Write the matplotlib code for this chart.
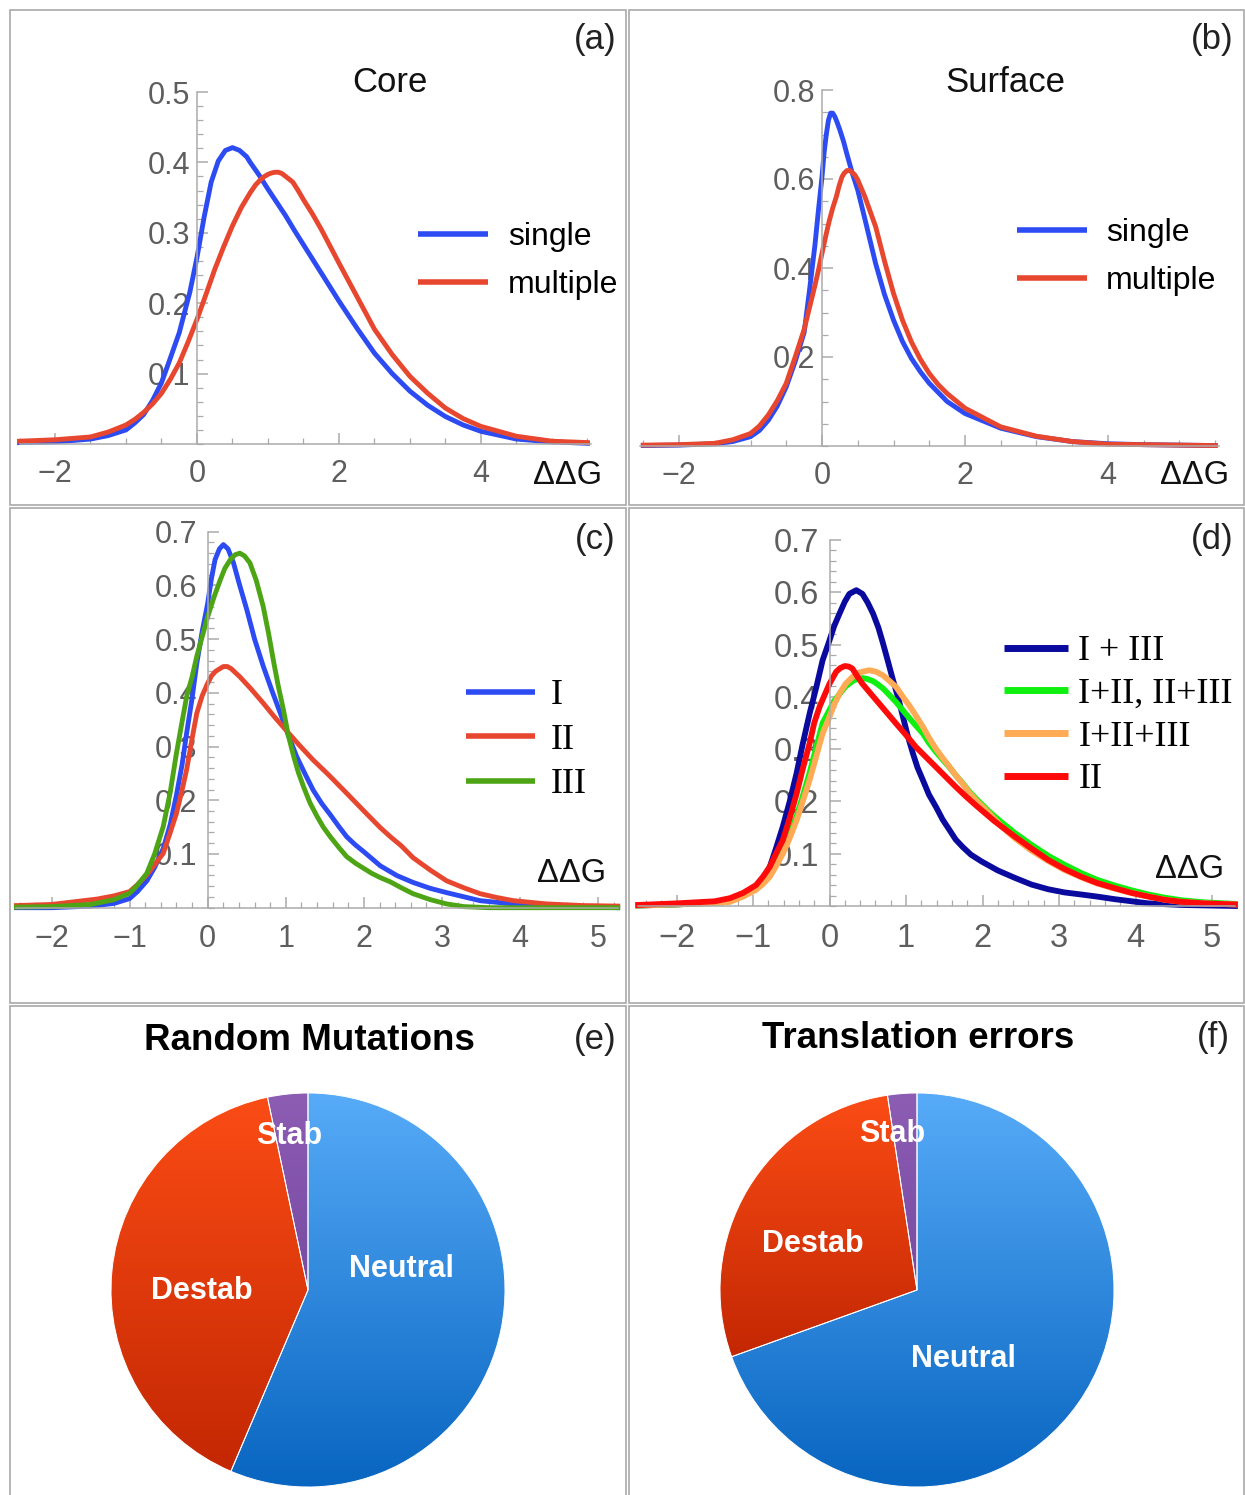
import numpy as np
import matplotlib
matplotlib.use("Agg")
import matplotlib.pyplot as plt
from matplotlib.patches import Rectangle
from matplotlib.colors import LinearSegmentedColormap
from matplotlib.ticker import MultipleLocator

W, H, DPI = 1245, 1495, 100

# ---- data ----------------------------------------------------------------
# (a) core
core_single_x = [-2.5, -2, -1.5, -1.25, -1, -0.875, -0.75, -0.625, -0.5, -0.4,
                 -0.25, -0.1, 0, 0.1, 0.2, 0.3, 0.4, 0.5, 0.6, 0.7,
                 0.75, 0.875, 1.0, 1.125, 1.25, 1.375, 1.5, 1.625, 1.75, 1.875,
                 2.0, 2.25, 2.5, 2.75, 3.0, 3.25, 3.5, 3.75, 4.0, 4.5, 5.0, 5.5]
core_single_y = [0.002, 0.003, 0.007, 0.012, 0.02, 0.03, 0.042, 0.062, 0.087, 0.115,
                 0.158, 0.216, 0.265, 0.322, 0.372, 0.402, 0.417, 0.421, 0.417, 0.408,
                 0.400, 0.382, 0.362, 0.343, 0.324, 0.303, 0.283, 0.263, 0.243, 0.223,
                 0.203, 0.165, 0.129, 0.1, 0.075, 0.055, 0.039, 0.027, 0.018, 0.007, 0.003, 0.001]
core_multi_x = [-2.5, -2, -1.5, -1.25, -1, -0.875, -0.75, -0.625, -0.5, -0.375,
                -0.25, -0.125, 0, 0.125, 0.25, 0.375, 0.5, 0.625, 0.75, 0.825,
                0.9, 0.95, 1.0, 1.05, 1.1, 1.15, 1.2, 1.275, 1.35, 1.425,
                1.5, 1.625, 1.75, 1.875, 2.0, 2.25, 2.5, 2.75, 3.0, 3.25,
                3.5, 3.75, 4.0, 4.5, 5.0, 5.5]
core_multi_y = [0.004, 0.006, 0.01, 0.017, 0.027, 0.035, 0.045, 0.057, 0.072, 0.092,
                0.115, 0.145, 0.177, 0.212, 0.248, 0.28, 0.31, 0.336, 0.357, 0.368,
                0.376, 0.380, 0.383, 0.385, 0.386, 0.386, 0.384, 0.378, 0.372, 0.36,
                0.347, 0.327, 0.305, 0.281, 0.257, 0.21, 0.163, 0.127, 0.096, 0.072,
                0.051, 0.036, 0.025, 0.011, 0.004, 0.002]

# (b) surface
surf_single_x = [-2.5, -2, -1.5, -1.25, -1, -0.875, -0.75, -0.625, -0.5, -0.375,
                 -0.25, -0.175, -0.1, -0.05, 0, 0.03, 0.06, 0.09, 0.12, 0.15,
                 0.18, 0.21, 0.25, 0.3, 0.35, 0.42, 0.5, 0.6, 0.75, 0.875,
                 1.0, 1.125, 1.25, 1.375, 1.5, 1.75, 2, 2.5, 3, 3.5, 4, 4.5, 5, 5.5]
surf_single_y = [0.001, 0.002, 0.005, 0.01, 0.021, 0.035, 0.058, 0.09, 0.133, 0.19,
                 0.255, 0.35, 0.45, 0.53, 0.605, 0.66, 0.70, 0.732, 0.748, 0.748,
                 0.74, 0.728, 0.71, 0.685, 0.655, 0.615, 0.575, 0.51, 0.41, 0.34,
                 0.283, 0.235, 0.197, 0.167, 0.141, 0.10, 0.073, 0.04, 0.021, 0.01,
                 0.005, 0.003, 0.002, 0.001]
surf_multi_x = [-2.5, -2, -1.5, -1.25, -1, -0.875, -0.75, -0.625, -0.5, -0.375,
                -0.25, -0.1, -0.05, 0, 0.05, 0.1, 0.15, 0.2, 0.24, 0.28,
                0.31, 0.35, 0.39, 0.42, 0.46, 0.5, 0.6, 0.75, 0.875, 1.0,
                1.125, 1.25, 1.375, 1.5, 1.625, 1.75, 2, 2.5, 3, 3.5, 4, 4.5, 5, 5.5]
surf_multi_y = [0.002, 0.003, 0.006, 0.014, 0.028, 0.045, 0.07, 0.102, 0.141, 0.2,
                0.262, 0.36, 0.395, 0.433, 0.47, 0.505, 0.535, 0.56, 0.585, 0.605,
                0.613, 0.619, 0.619, 0.615, 0.609, 0.598, 0.56, 0.493, 0.415, 0.343,
                0.283, 0.234, 0.195, 0.163, 0.138, 0.118, 0.085, 0.043, 0.022, 0.01,
                0.004, 0.003, 0.002, 0.001]

# (c) classes I, II, III
cls1_x = [-2.45, -2, -1.5, -1.2, -1.0, -0.9, -0.78, -0.68, -0.57, -0.48,
          -0.4, -0.33, -0.27, -0.2, -0.14, -0.07, 0, 0.05, 0.094, 0.15,
          0.2, 0.26, 0.33, 0.4, 0.5, 0.6, 0.71, 0.82, 0.93, 1.04,
          1.14, 1.25, 1.35, 1.46, 1.57, 1.68, 1.78, 1.89, 2.0, 2.21,
          2.42, 2.63, 2.85, 3.06, 3.49, 3.92, 4.34, 5.25]
cls1_y = [0.0, 0.0, 0.003, 0.008, 0.017, 0.03, 0.05, 0.075, 0.11, 0.155,
          0.21, 0.265, 0.325, 0.39, 0.455, 0.515, 0.567, 0.615, 0.648, 0.668,
          0.676, 0.668, 0.642, 0.605, 0.555, 0.5, 0.45, 0.405, 0.362, 0.318,
          0.281, 0.248, 0.219, 0.194, 0.173, 0.151, 0.132, 0.117, 0.104, 0.078,
          0.06, 0.047, 0.036, 0.028, 0.013, 0.007, 0.003, 0.0]
cls2_x = [-2.45, -2, -1.42, -1.2, -1.0, -0.9, -0.78, -0.68, -0.57, -0.48,
          -0.4, -0.33, -0.27, -0.2, -0.14, -0.07, 0, 0.05, 0.1, 0.2,
          0.25, 0.3, 0.41, 0.55, 0.71, 0.85, 1.0, 1.17, 1.35, 1.55,
          1.78, 2.0, 2.21, 2.34, 2.48, 2.63, 2.85, 3.06, 3.28, 3.49,
          3.7, 3.92, 4.34, 4.8, 5.25]
cls2_y = [0.004, 0.006, 0.016, 0.022, 0.03, 0.043, 0.061, 0.08, 0.101, 0.14,
          0.176, 0.218, 0.257, 0.315, 0.362, 0.395, 0.418, 0.432, 0.44, 0.449,
          0.449, 0.445, 0.43, 0.408, 0.381, 0.356, 0.331, 0.303, 0.275, 0.247,
          0.213, 0.18, 0.149, 0.132, 0.115, 0.093, 0.07, 0.05, 0.037, 0.026,
          0.019, 0.013, 0.007, 0.004, 0.003]
cls3_x = [-2.45, -2, -1.5, -1.2, -1.0, -0.9, -0.78, -0.68, -0.57, -0.48,
          -0.4, -0.33, -0.27, -0.2, -0.14, -0.07, 0, 0.08, 0.16, 0.22,
          0.29, 0.35, 0.41, 0.47, 0.54, 0.62, 0.71, 0.78, 0.84, 0.9,
          0.97, 1.03, 1.1, 1.16, 1.23, 1.31, 1.4, 1.48, 1.57, 1.68,
          1.78, 1.89, 2.0, 2.1, 2.21, 2.34, 2.48, 2.63, 2.85, 3.06,
          3.28, 3.6, 5.25]
cls3_y = [0.001, 0.002, 0.006, 0.015, 0.027, 0.042, 0.064, 0.1, 0.151, 0.215,
          0.288, 0.345, 0.393, 0.43, 0.468, 0.505, 0.542, 0.578, 0.61, 0.632,
          0.648, 0.657, 0.66, 0.655, 0.642, 0.61, 0.561, 0.51, 0.461, 0.415,
          0.368, 0.322, 0.282, 0.252, 0.224, 0.195, 0.17, 0.15, 0.132, 0.112,
          0.095, 0.083, 0.073, 0.064, 0.056, 0.048, 0.037, 0.026, 0.015, 0.007,
          0.002, 0.0, 0.0]

# (d) combinations
c13_x = [-2.5, -2, -1.5, -1.3, -1.13, -0.96, -0.87, -0.78, -0.7, -0.61,
         -0.52, -0.43, -0.35, -0.26, -0.17, -0.09, 0, 0.06, 0.13, 0.2,
         0.26, 0.35, 0.43, 0.5, 0.57, 0.64, 0.7, 0.76, 0.83, 0.9,
         0.96, 1.02, 1.09, 1.15, 1.22, 1.3, 1.39, 1.48, 1.57, 1.65,
         1.74, 1.85, 1.99, 2.2, 2.42, 2.64, 2.86, 3.07, 3.29, 3.5,
         3.73, 4.17, 4.6, 5.3]
c13_y = [0.001, 0.003, 0.007, 0.011, 0.02, 0.034, 0.052, 0.075, 0.11, 0.152,
         0.2, 0.254, 0.31, 0.368, 0.42, 0.47, 0.508, 0.535, 0.559, 0.582,
         0.597, 0.604, 0.597, 0.58, 0.559, 0.532, 0.502, 0.47, 0.432, 0.397,
         0.362, 0.327, 0.292, 0.265, 0.241, 0.213, 0.19, 0.165, 0.145, 0.127,
         0.113, 0.098, 0.085, 0.068, 0.054, 0.041, 0.032, 0.026, 0.022, 0.018,
         0.013, 0.005, 0.002, 0.0]
c12_x = [-2.5, -2, -1.5, -1.3, -1.13, -0.96, -0.87, -0.78, -0.7, -0.61,
         -0.52, -0.43, -0.35, -0.26, -0.17, -0.09, 0, 0.06, 0.13, 0.21,
         0.3, 0.36, 0.43, 0.5, 0.57, 0.63, 0.7, 0.78, 0.87, 0.95,
         1.04, 1.13, 1.22, 1.3, 1.39, 1.48, 1.57, 1.65, 1.74, 1.82,
         1.91, 2.0, 2.09, 2.25, 2.42, 2.64, 2.86, 3.07, 3.29, 3.5,
         3.73, 3.95, 4.17, 4.38, 4.6, 4.9, 5.3]
c12_y = [0.001, 0.003, 0.006, 0.009, 0.02, 0.033, 0.045, 0.06, 0.08, 0.105,
         0.136, 0.172, 0.21, 0.255, 0.305, 0.35, 0.375, 0.392, 0.405, 0.42,
         0.43, 0.434, 0.436, 0.434, 0.43, 0.424, 0.416, 0.404, 0.39, 0.376,
         0.36, 0.345, 0.33, 0.312, 0.295, 0.28, 0.265, 0.25, 0.235, 0.22,
         0.206, 0.193, 0.18, 0.16, 0.14, 0.117, 0.096, 0.079, 0.063, 0.05,
         0.039, 0.03, 0.022, 0.016, 0.011, 0.007, 0.004]
c123_x = [-2.5, -2, -1.5, -1.3, -1.13, -0.96, -0.87, -0.78, -0.7, -0.61,
          -0.52, -0.43, -0.35, -0.26, -0.17, -0.09, 0, 0.06, 0.13, 0.21,
          0.3, 0.4, 0.52, 0.61, 0.7, 0.78, 0.87, 0.95, 1.04, 1.13,
          1.22, 1.3, 1.39, 1.48, 1.57, 1.65, 1.74, 1.82, 1.91, 2.0,
          2.09, 2.25, 2.42, 2.64, 2.86, 3.07, 3.29, 3.5, 3.73, 3.95,
          4.17, 4.38, 4.6, 4.9, 5.3]
c123_y = [0.001, 0.003, 0.006, 0.008, 0.018, 0.031, 0.042, 0.056, 0.076, 0.1,
          0.13, 0.164, 0.2, 0.241, 0.288, 0.33, 0.362, 0.385, 0.406, 0.425,
          0.438, 0.447, 0.451, 0.448, 0.441, 0.431, 0.419, 0.402, 0.384, 0.364,
          0.343, 0.322, 0.301, 0.283, 0.266, 0.25, 0.234, 0.218, 0.203, 0.19,
          0.177, 0.152, 0.13, 0.106, 0.086, 0.069, 0.055, 0.043, 0.033, 0.025,
          0.018, 0.012, 0.008, 0.005, 0.003]
c2_x = [-2.5, -2, -1.5, -1.3, -1.13, -0.96, -0.87, -0.78, -0.7, -0.61,
        -0.52, -0.43, -0.35, -0.26, -0.2, -0.13, -0.06, 0, 0.087, 0.14,
        0.2, 0.25, 0.3, 0.36, 0.43, 0.54, 0.65, 0.76, 0.87, 1.0,
        1.13, 1.26, 1.39, 1.52, 1.65, 1.78, 1.91, 2.15, 2.42, 2.64,
        2.86, 3.07, 3.29, 3.5, 3.73, 3.95, 4.17, 4.38, 4.6, 4.9, 5.3]
c2_y = [0.002, 0.005, 0.009, 0.015, 0.025, 0.04, 0.056, 0.075, 0.1, 0.126,
        0.168, 0.215, 0.262, 0.311, 0.35, 0.381, 0.405, 0.425, 0.448, 0.455,
        0.459, 0.458, 0.454, 0.44, 0.425, 0.406, 0.387, 0.368, 0.349, 0.327,
        0.304, 0.285, 0.266, 0.247, 0.228, 0.21, 0.193, 0.163, 0.133, 0.11,
        0.088, 0.071, 0.056, 0.044, 0.034, 0.025, 0.018, 0.012, 0.008, 0.005, 0.003]

# (e), (f) pies: Neutral, Destab, Stab
pie_labels = ["Neutral", "Destab", "Stab"]
random_fracs = [0.564, 0.403, 0.033]
translation_fracs = [0.695, 0.281, 0.024]

# ---- style ----------------------------------------------------------------
BLUE = "#2D4BF2"
RED = "#E8472F"
GREEN = "#4DA415"
NAVY = "#0A0A9E"
LIME = "#10F010"
ORANGE = "#FFAA55"
PURE_RED = "#FF0A0A"
AXIS = "#ABABAB"
TICKLAB = "#5E5E5E"
FRAME = "#A9A9A9"
PIE_GRAD = [("#57ABF8", "#0865C0"), ("#FB4C15", "#C32703"), ("#8D5DB4", "#784AA2")]

SANS = ["Liberation Sans", "DejaVu Sans"]
SERIF = ["Liberation Serif", "DejaVu Serif"]
plt.rcParams.update({"font.family": SANS, "axes.unicode_minus": True,
                     "lines.solid_joinstyle": "round"})

fig = plt.figure(figsize=(W / DPI, H / DPI), dpi=DPI)


def frac_box(x0, y0, x1, y1):
    return [x0 / W, 1 - y1 / H, (x1 - x0) / W, (y1 - y0) / H]


def ftext(x, y, s, **kw):
    kw.setdefault("ha", "center")
    kw.setdefault("va", "center")
    fig.text(x / W, 1 - y / H, s, **kw)


def fmt(v):
    return f"{v:g}".replace("-", "\u2212")


def line_axes(box, xlim, ylim, xmajor, xminor, ymajor, yminor, fs, xpad, ypad):
    ax = fig.add_axes(frac_box(*box))
    ax.patch.set_visible(False)
    ax.set_xlim(xlim)
    ax.set_ylim(ylim)
    for s in ("top", "right"):
        ax.spines[s].set_visible(False)
    ax.spines["left"].set_position(("data", 0))
    for s in ("left", "bottom"):
        ax.spines[s].set_color(AXIS)
        ax.spines[s].set_linewidth(1.1)
    ax.set_xticks(xmajor, [fmt(v) for v in xmajor])
    ax.set_yticks(ymajor, [fmt(v) for v in ymajor])
    ax.xaxis.set_minor_locator(MultipleLocator(xminor))
    ax.yaxis.set_minor_locator(MultipleLocator(yminor))
    ax.tick_params(which="both", direction="in", color=AXIS, labelcolor=TICKLAB, labelsize=fs)
    ax.tick_params(which="major", length=8, width=1.1)
    ax.tick_params(which="minor", length=4.5, width=0.9)
    ax.tick_params(axis="x", pad=xpad)
    ax.tick_params(axis="y", pad=ypad)
    return ax


def add_legend(ax, x, y, fs, family, hl, htp, ls, lw):
    leg = ax.legend(loc="upper left", bbox_to_anchor=(x / W, 1 - y / H),
                    bbox_transform=fig.transFigure, frameon=False, borderpad=0,
                    borderaxespad=0, handlelength=hl, handletextpad=htp, labelspacing=ls,
                    prop={"family": family, "size": fs})
    for line in leg.get_lines():
        line.set_linewidth(lw)
        line.set_solid_capstyle("butt")
    return leg


# panel frames
for x0, y0, x1, y1 in [(10, 10, 626, 505), (629, 10, 1244, 505), (10, 508, 626, 1003),
                       (629, 508, 1244, 1003), (10, 1006, 626, 1500), (629, 1006, 1244, 1500)]:
    fig.add_artist(Rectangle((x0 / W, 1 - y1 / H), (x1 - x0) / W, (y1 - y0) / H,
                             transform=fig.transFigure, fill=False, ec=FRAME, lw=1.2))

LW = 3.5

# (a) Core
ax = line_axes((19.5, 92, 591, 444), (-2.5, 5.55), (0, 0.5), [-2, 0, 2, 4], 0.5,
               [0.1, 0.2, 0.3, 0.4, 0.5], 0.02, 22, 10.5, 5)
ax.plot(core_single_x, core_single_y, color=BLUE, lw=LW, clip_on=False, label="single")
ax.plot(core_multi_x, core_multi_y, color=RED, lw=LW, clip_on=False, label="multiple")
add_legend(ax, 418, 222, 23, SANS, 2.2, 0.62, 0.57, 4.0)
ftext(390, 83, "Core", fontsize=25, color="#111111")
ftext(568, 475, "ΔΔG", fontsize=23.5, color="#111111")
ftext(595, 40, "(a)", fontsize=25, color="#222222")

# (b) Surface
ax = line_axes((639.7, 90, 1218.8, 446), (-2.55, 5.55), (0, 0.8), [-2, 0, 2, 4], 0.5,
               [0.2, 0.4, 0.6, 0.8], 0.05, 22, 10.5, 5)
ax.plot(surf_single_x, surf_single_y, color=BLUE, lw=LW, clip_on=False, label="single")
ax.plot(surf_multi_x, surf_multi_y, color=RED, lw=LW, clip_on=False, label="multiple")
add_legend(ax, 1017, 218, 23, SANS, 2.2, 0.58, 0.57, 4.0)
ftext(1005, 83, "Surface", fontsize=25, color="#111111")
ftext(1195, 475, "ΔΔG", fontsize=23.5, color="#111111")
ftext(1212, 40, "(b)", fontsize=25, color="#222222")

# (c) classes
ax = line_axes((16.4, 531.7, 617.7, 907.7), (-2.45, 5.25), (0, 0.7), list(range(-2, 6)), 0.2,
               [0.1, 0.2, 0.3, 0.4, 0.5, 0.6, 0.7], 0.02, 22, 12, 7.5)
ax.plot(cls1_x, cls1_y, color=BLUE, lw=LW, clip_on=False, label="I")
ax.plot(cls2_x, cls2_y, color=RED, lw=LW, clip_on=False, label="II")
ax.plot(cls3_x, cls3_y, color=GREEN, lw=LW, clip_on=False, label="III")
add_legend(ax, 466, 679, 26, SERIF, 1.92, 0.42, 0.31, 4.0)
ftext(572, 873, "ΔΔG", fontsize=23.5, color="#111111")
ftext(595, 539, "(c)", fontsize=25, color="#222222")

# (d) combinations
LW_D = 4.2
ax = line_axes((638.25, 540, 1234.95, 906), (-2.5, 5.3), (0, 0.7), list(range(-2, 6)), 0.2,
               [0.1, 0.2, 0.3, 0.4, 0.5, 0.6, 0.7], 0.02, 23.5, 12, 7.5)
ax.plot(c13_x, c13_y, color=NAVY, lw=LW_D, clip_on=False, label="I + III")
ax.plot(c12_x, c12_y, color=LIME, lw=LW_D, clip_on=False, label="I+II, II+III")
ax.plot(c123_x, c123_y, color=ORANGE, lw=LW_D, clip_on=False, label="I+II+III")
ax.plot(c2_x, c2_y, color=PURE_RED, lw=LW_D, clip_on=False, label="II")
add_legend(ax, 1004, 635, 26, SERIF, 1.78, 0.28, 0.26, 5.0)
ftext(1190, 869, "ΔΔG", fontsize=23.5, color="#111111")
ftext(1212, 539, "(d)", fontsize=25, color="#222222")


# (e), (f) pies
def pie_panel(cx, cy, fracs, label_pos):
    ax = fig.add_axes(frac_box(cx - 200, cy - 200, cx + 200, cy + 200))
    ax.set_axis_off()
    wedges, _ = ax.pie(fracs, startangle=90, counterclock=False, radius=0.985,
                       wedgeprops=dict(linewidth=0.7, edgecolor="white"))
    for w, (top, bot) in zip(wedges, PIE_GRAD):
        bb = w.get_path().transformed(w.get_patch_transform()).get_extents()
        cmap = LinearSegmentedColormap.from_list("grad", [bot, top])
        im = ax.imshow(np.linspace(0, 1, 256)[:, None], cmap=cmap, origin="lower",
                       extent=(bb.x0, bb.x1, bb.y0, bb.y1), aspect="auto", zorder=1,
                       interpolation="bilinear")
        im.set_clip_path(w)
        w.set_facecolor("none")
        w.set_zorder(2)
    for name, (ang, rr) in zip(pie_labels, label_pos):
        t = np.deg2rad(ang)
        ax.text(0.985 * rr * np.cos(t), 0.985 * rr * np.sin(t), name, ha="center", va="center",
                color="white", fontsize=22, fontweight="bold", zorder=3)
    ax.set_xlim(-1, 1)
    ax.set_ylim(-1, 1)
    return ax


pie_panel(308, 1290, random_fracs, [(13, 0.485), (180.5, 0.54), (97, 0.79)])
ftext(309, 1040, "Random Mutations", fontsize=26.5, fontweight="bold", color="black")
ftext(595, 1040, "(e)", fontsize=25, color="#222222")

pie_panel(917, 1290, translation_fracs, [(-56, 0.42), (156, 0.58), (99, 0.80)])
ftext(918, 1038, "Translation errors", fontsize=26.5, fontweight="bold", color="black")
ftext(1213, 1037, "(f)", fontsize=25, color="#222222")

fig.savefig("out.png", dpi=DPI)
